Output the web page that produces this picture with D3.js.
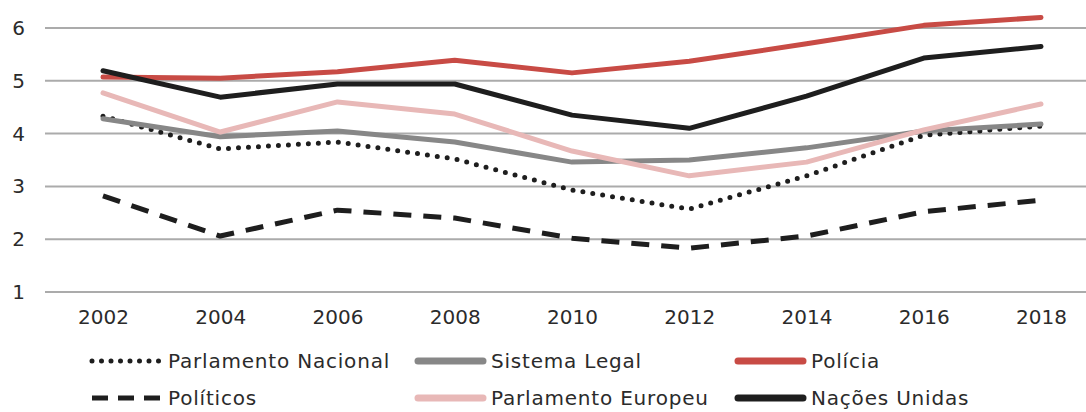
<!DOCTYPE html>
<html>
<head>
<meta charset="utf-8">
<script src="https://cdn.jsdelivr.net/npm/d3@7"></script>
<style>
  body { margin: 0; background: #fff; }
  svg text { font-family: "DejaVu Sans", sans-serif; fill: #2b2b2b; }
</style>
</head>
<body>
<svg id="chart"></svg>
<script>
// data
var years = ['2002', '2004', '2006', '2008', '2010', '2012', '2014', '2016', '2018']
var yTicks = [1, 2, 3, 4, 5, 6]

var parlamentoNacional = [4.33, 3.71, 3.84, 3.52, 2.93, 2.57, 3.20, 3.97, 4.14]
var sistemaLegal = [4.28, 3.94, 4.05, 3.84, 3.46, 3.50, 3.73, 4.05, 4.18]
var policia = [5.07, 5.05, 5.17, 5.39, 5.15, 5.37, 5.70, 6.05, 6.20]
var politicos = [2.82, 2.06, 2.55, 2.40, 2.02, 1.83, 2.06, 2.52, 2.74]
var parlamentoEuropeu = [4.77, 4.03, 4.60, 4.37, 3.67, 3.20, 3.46, 4.07, 4.56]
var nacoesUnidas = [5.19, 4.69, 4.94, 4.94, 4.35, 4.10, 4.71, 5.43, 5.65]

var series = [
    {name: 'Parlamento Nacional', values: parlamentoNacional, color: '#1e1e1e', dash: '0,10', cap: 'round'},
    {name: 'Sistema Legal', values: sistemaLegal, color: '#878787', dash: null, cap: 'round'},
    {name: 'Polícia', values: policia, color: '#c84b45', dash: null, cap: 'round'},
    {name: 'Políticos', values: politicos, color: '#1e1e1e', dash: '18,12', cap: 'butt'},
    {name: 'Parlamento Europeu', values: parlamentoEuropeu, color: '#e8b8b7', dash: null, cap: 'round'},
    {name: 'Nações Unidas', values: nacoesUnidas, color: '#1e1e1e', dash: null, cap: 'round'}
]

var width = 1086
var height = 412
var margin = {top: 28, left: 45}

var svg = d3.select('#chart')
    .attr('width', width)
    .attr('height', height)

var x = d3.scalePoint()
    .domain(years)
    .range([103, 1041])

var y = d3.scaleLinear()
    .domain([1, 6])
    .range([292, margin.top])

// gridlines
svg.append('g').selectAll('line')
    .data(yTicks)
    .enter().append('line')
    .attr('x1', margin.left)
    .attr('x2', width)
    .attr('y1', d => y(d))
    .attr('y2', d => y(d))
    .attr('stroke', '#ababab')
    .attr('stroke-width', 2)

// y labels
var yAxis = svg.append('g')
    .attr('transform', 'translate(25,0)')
    .call(d3.axisLeft(y).tickValues(yTicks).tickSize(0).tickPadding(0).tickFormat(d3.format('d')))
yAxis.select('.domain').remove()
yAxis.selectAll('text').style('font-size', '20px').attr('fill', '#2b2b2b')

// x labels
var xAxis = svg.append('g')
    .attr('transform', 'translate(0,310)')
    .call(d3.axisBottom(x).tickSize(0).tickPadding(0))
xAxis.select('.domain').remove()
xAxis.selectAll('text').style('font-size', '20px').attr('fill', '#2b2b2b')

var line = d3.line()
    .x((d, i) => x(years[i]))
    .y(d => y(d))

svg.append('g').selectAll('path')
    .data(series)
    .enter().append('path')
    .attr('d', d => line(d.values))
    .attr('fill', 'none')
    .attr('stroke', d => d.color)
    .attr('stroke-width', 5)
    .attr('stroke-linecap', d => d.cap)
    .attr('stroke-linejoin', 'round')
    .attr('stroke-dasharray', d => d.dash)

// legend (second row nudged up so its text is not cut at the bottom)
var legendX = [92, 415, 735]
var legendY = [361, 398]
var legend = svg.append('g').selectAll('g')
    .data(series)
    .enter().append('g')
    .attr('transform', (d, i) => `translate(${legendX[i % 3]},${legendY[Math.floor(i / 3)]})`)

legend.append('line')
    .attr('x1', d => d.cap == 'round' && !d.dash ? 3 : 0)
    .attr('x2', 68)
    .attr('stroke', d => d.color)
    .attr('stroke-width', d => d.dash ? 5 : 7)
    .attr('stroke-linecap', d => d.cap)
    .attr('stroke-dasharray', d => d.dash == '0,10' ? '0,9.5' : (d.dash ? '16,10' : null))

legend.append('text')
    .attr('x', 76)
    .attr('dy', '0.35em')
    .style('font-size', '20px')
    .style('letter-spacing', '0.8px')
    .text(d => d.name)
</script>
</body>
</html>
